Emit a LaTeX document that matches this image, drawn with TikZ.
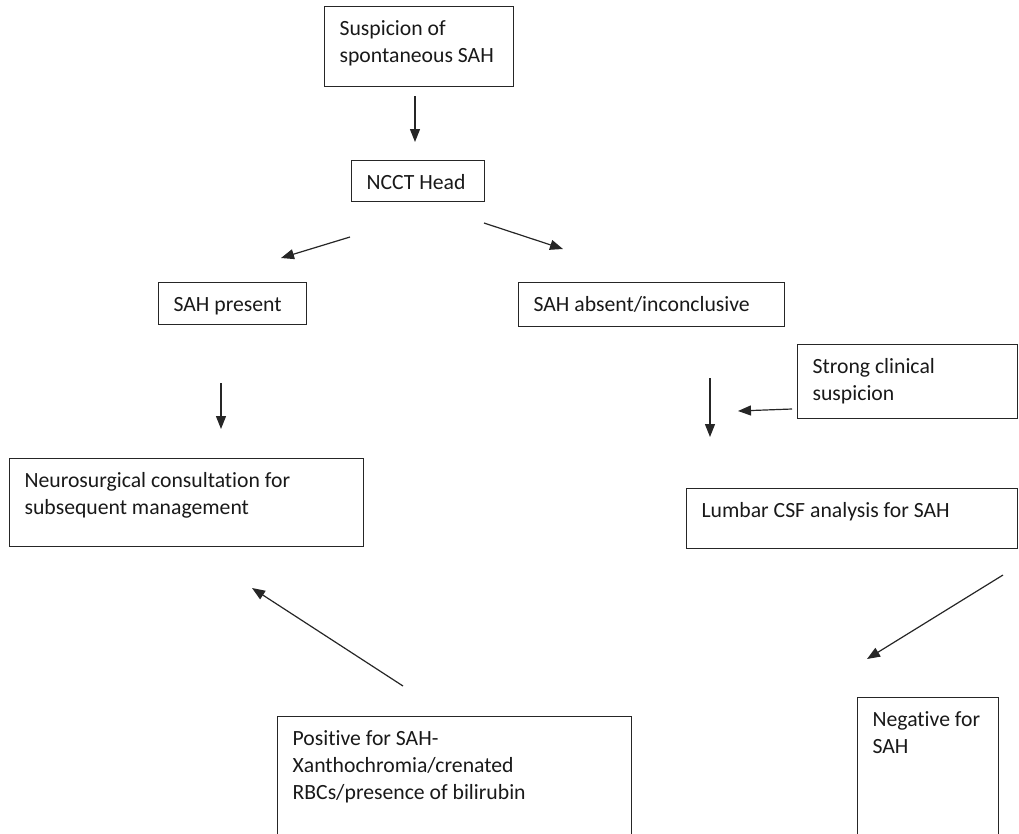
\documentclass[tikz,border=0pt]{standalone}
\usepackage{fontspec}
\setmainfont{Carlito}[Ligatures=NoCommon]
\usetikzlibrary{arrows.meta}
% box contents: width, height, top-aligned text
\newcommand\flowtext[3]{\parbox[c][\dimexpr#2-20pt\relax][t]{\dimexpr#1-30pt\relax}{\raggedright\strut #3}}
\begin{document}
\begin{tikzpicture}[x=1pt,y=-1pt,
  flowbox/.style={draw=black!85, line width=1.2pt, anchor=north west,
    inner xsep=15pt, inner ysep=10pt,
    font=\fontsize{21.7}{27}\selectfont, text=black!90},
  flowarrow/.style={draw=black!85, line width=1.2pt,
    -{Triangle[length=13pt,width=10pt]}}]
\useasboundingbox (0,0) rectangle (1019,833);
\clip (0,0) rectangle (1019,833);

% boxes
\node[flowbox] (susp) at (324,6) {\flowtext{189pt}{80pt}{Suspicion of\\spontaneous SAH}};
\node[flowbox] (ncct) at (351,160) {\flowtext{133pt}{41pt}{NCCT Head}};
\node[flowbox] (present) at (158,282) {\flowtext{148pt}{42pt}{SAH present}};
\node[flowbox] (absent) at (518,282) {\flowtext{266pt}{44pt}{SAH absent/inconclusive}};
\node[flowbox] (strong) at (797,344) {\flowtext{220pt}{74pt}{Strong clinical\\suspicion}};
\node[flowbox] (neuro) at (9,458) {\flowtext{354pt}{88pt}{Neurosurgical consultation for\\subsequent management}};
\node[flowbox] (lumbar) at (686,488) {\flowtext{331pt}{60pt}{Lumbar CSF analysis for SAH}};
\node[flowbox] (positive) at (277,716) {\flowtext{354pt}{140pt}{Positive for SAH-\\Xanthochromia/crenated\\RBCs/presence of bilirubin}};
\node[flowbox] (negative) at (857,697) {\flowtext{141pt}{160pt}{Negative for\\SAH}};

% free-standing arrows between the boxes
\coordinate (a1s) at (415,96);   \coordinate (a1e) at (415,142);
\coordinate (a2s) at (350,237);  \coordinate (a2e) at (281,258);
\coordinate (a3s) at (484,223);  \coordinate (a3e) at (563,249);
\coordinate (a4s) at (221,383);  \coordinate (a4e) at (221,429);
\coordinate (a5s) at (710,378);  \coordinate (a5e) at (710,437);
\coordinate (a6s) at (792,409);  \coordinate (a6e) at (738,411);
\coordinate (a7s) at (1003,575); \coordinate (a7e) at (867,659);
\coordinate (a8s) at (403,686);  \coordinate (a8e) at (252,588);

\draw[flowarrow] (a1s) -- (a1e);
\draw[flowarrow] (a2s) -- (a2e);
\draw[flowarrow] (a3s) -- (a3e);
\draw[flowarrow] (a4s) -- (a4e);
\draw[flowarrow] (a5s) -- (a5e);
\draw[flowarrow] (a6s) -- (a6e);
\draw[flowarrow] (a7s) -- (a7e);
\draw[flowarrow] (a8s) -- (a8e);
\end{tikzpicture}
\end{document}
